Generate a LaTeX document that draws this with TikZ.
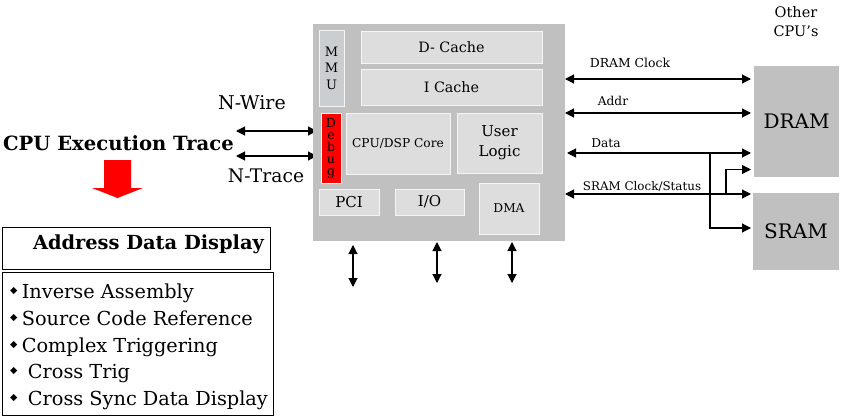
\documentclass[tikz,border=0pt]{standalone}
\usepackage{fontspec}
\setmainfont{DejaVu Serif}
\newfontfamily\symfont{DejaVu Sans}
\usetikzlibrary{arrows.meta}

\definecolor{chipgray}{RGB}{192,192,192}
\definecolor{cellgray}{RGB}{221,221,221}
\definecolor{cellline}{RGB}{244,244,244}
\definecolor{mmugray}{RGB}{203,206,209}
\definecolor{dbgred}{RGB}{255,0,0}

\pgfdeclarelayer{back}
\pgfsetlayers{back,main}

\newcommand{\fsz}[1]{\fontsize{#1}{1.2\dimexpr#1pt\relax}\selectfont}
\newcommand{\bul}{\raisebox{5pt}{\symfont\fontsize{9.5}{9.5}\selectfont ◆}\hspace{4.5pt}}

\tikzset{
  chip/.style={rectangle, inner sep=0pt, outer sep=0pt, fill=chipgray},
  cell/.style={rectangle, inner sep=0pt, outer sep=0pt, fill=cellgray,
    draw=cellline, line width=0.9pt},
  memory/.style={rectangle, inner sep=0pt, outer sep=0pt, fill=chipgray,
    font=\fsz{20}},
  busarrow/.style={line width=1.1pt,
    {Triangle[length=9pt,width=9pt]}-{Triangle[length=9pt,width=9pt]}},
  onearrow/.style={line width=1.1pt, -{Triangle[length=9pt,width=9pt]}},
  txt/.style={inner sep=0pt, outer sep=0pt},
  buslabel/.style={inner sep=0pt, outer sep=0pt, font=\fsz{12.2}}
}

\begin{document}
\begin{tikzpicture}[x=1pt,y=-1pt]
\useasboundingbox (0,0) rectangle (842,417);

% ---------- processor block ----------
\node[chip, minimum width=252pt, minimum height=217pt] (cpu) at (439,132.5) {};
\node[cell, fill=mmugray, minimum width=25pt, minimum height=76pt, align=center,
      font=\fontsize{13}{16.5}\selectfont] (mmu) at (331.5,68) {M\\M\\U};
\node[cell, minimum width=181pt, minimum height=32pt, font=\fsz{14.3}] (dcache) at (451.5,47) {D- Cache};
\node[cell, minimum width=181pt, minimum height=36pt, font=\fsz{14.3}] (icache) at (451.5,87) {I Cache};
\node[cell, fill=dbgred, minimum width=20pt, minimum height=70pt, align=center,
      font=\fontsize{12.5}{12}\selectfont] (debug) at (331,148) {D\\e\\b\\u\\g};
\node[cell, minimum width=104pt, minimum height=61pt, font=\fsz{12.2}] (core) at (398,143.5) {CPU/DSP Core};
\node[cell, minimum width=85pt, minimum height=60pt, align=center,
      font=\fontsize{15}{20}\selectfont] (user) at (499.5,143) {User\\Logic};
\node[cell, minimum width=60pt, minimum height=26pt, font=\fsz{15}] (pci) at (349,202) {PCI};
\node[cell, minimum width=69pt, minimum height=26pt, font=\fsz{15}] (io) at (429.5,202) {I/O};
\node[cell, minimum width=60pt, minimum height=51pt, font=\fsz{12.2}] (dma) at (509,208.5) {DMA};

% ---------- memories ----------
\node[memory, minimum width=85pt, minimum height=111pt] (dram) at (796.5,121.5) {DRAM};
\node[memory, minimum width=86pt, minimum height=77pt] (sram) at (796,231.5) {SRAM};
\node[txt, align=center, font=\fontsize{14.5}{19}\selectfont] (other) at (796,21.5) {Other\\CPU’s};

% ---------- memory buses ----------
\coordinate (yclk) at (0,79);
\coordinate (yadr) at (0,113);
\coordinate (ydat) at (0,153);
\coordinate (ysrm) at (0,194);
\draw[busarrow, shorten >=3pt] (cpu.east |- yclk) -- (dram.west |- yclk);
\draw[busarrow, shorten >=3pt] (cpu.east |- yadr) -- (dram.west |- yadr);
\draw[busarrow, shorten <=2pt, shorten >=3pt] (cpu.east |- ydat) -- (dram.west |- ydat);
\draw[busarrow, shorten >=2pt] (cpu.east |- ysrm) -- (sram.west |- ysrm);

\coordinate (datatap) at (710,153);
\coordinate (srmtap) at (726,194);
\draw[onearrow, shorten >=2pt] (datatap) |- (sram.west |- 0,228);
\draw[onearrow, shorten >=3pt] (srmtap) |- (dram.west |- 0,169.5);

\node[buslabel, font=\fsz{12.4}] (lclk) at (630,63) {DRAM Clock};
\node[buslabel] (ladr) at (613,101) {Addr};
\node[buslabel] (ldat) at (606,143) {Data};
\node[buslabel, font=\fsz{11.9}] (lsrm) at (642,187) {SRAM Clock/Status};

% ---------- I/O pins below the chip ----------
\coordinate (p1a) at (353,245);  \coordinate (p1b) at (353,287);
\coordinate (p2a) at (437,242);  \coordinate (p2b) at (437,283);
\coordinate (p3a) at (512,242);  \coordinate (p3b) at (512,283);
\draw[busarrow] (p1a) -- (p1b);
\draw[busarrow] (p2a) -- (p2b);
\draw[busarrow] (p3a) -- (p3b);

% ---------- debug port ----------
\coordinate (wireend) at (236,131);
\coordinate (traceend) at (236,156);
\begin{pgfonlayer}{back}
\draw[busarrow, shorten >=-4pt] (wireend) -- (cpu.west |- wireend);
\draw[busarrow, shorten >=-4pt] (traceend) -- (cpu.west |- traceend);
\end{pgfonlayer}
\node[txt, font=\fsz{19}] (nwire) at (252,103) {N-Wire};
\node[txt, font=\fsz{18.7}] (ntrace) at (266,176) {N-Trace};

% ---------- trace analysis ----------
\node[txt, anchor=west, font=\bfseries\fsz{19.6}] (exec) at (3,143) {CPU Execution Trace};
\fill[dbgred] (104,160) -- (131,160) -- (131,188) -- (143,188) -- (117.5,198)
  -- (92,188) -- (104,188) -- cycle;

\draw[line width=0.8pt] (2,227) rectangle (270,269);
\node[txt, anchor=west, font=\bfseries\fsz{19.4}] (addr) at (33,244) {Address Data Display};

\draw[line width=0.8pt] (2,272) rectangle (273,415);
\node[txt, anchor=west, align=left, font=\fontsize{19.3}{26.75}\selectfont] (feat) at (10,347)
  {\bul Inverse Assembly\\
   \bul Source Code Reference\\
   \bul Complex Triggering\\
   \bul\ Cross Trig\\
   \bul\ Cross Sync Data Display};
\end{tikzpicture}
\end{document}
